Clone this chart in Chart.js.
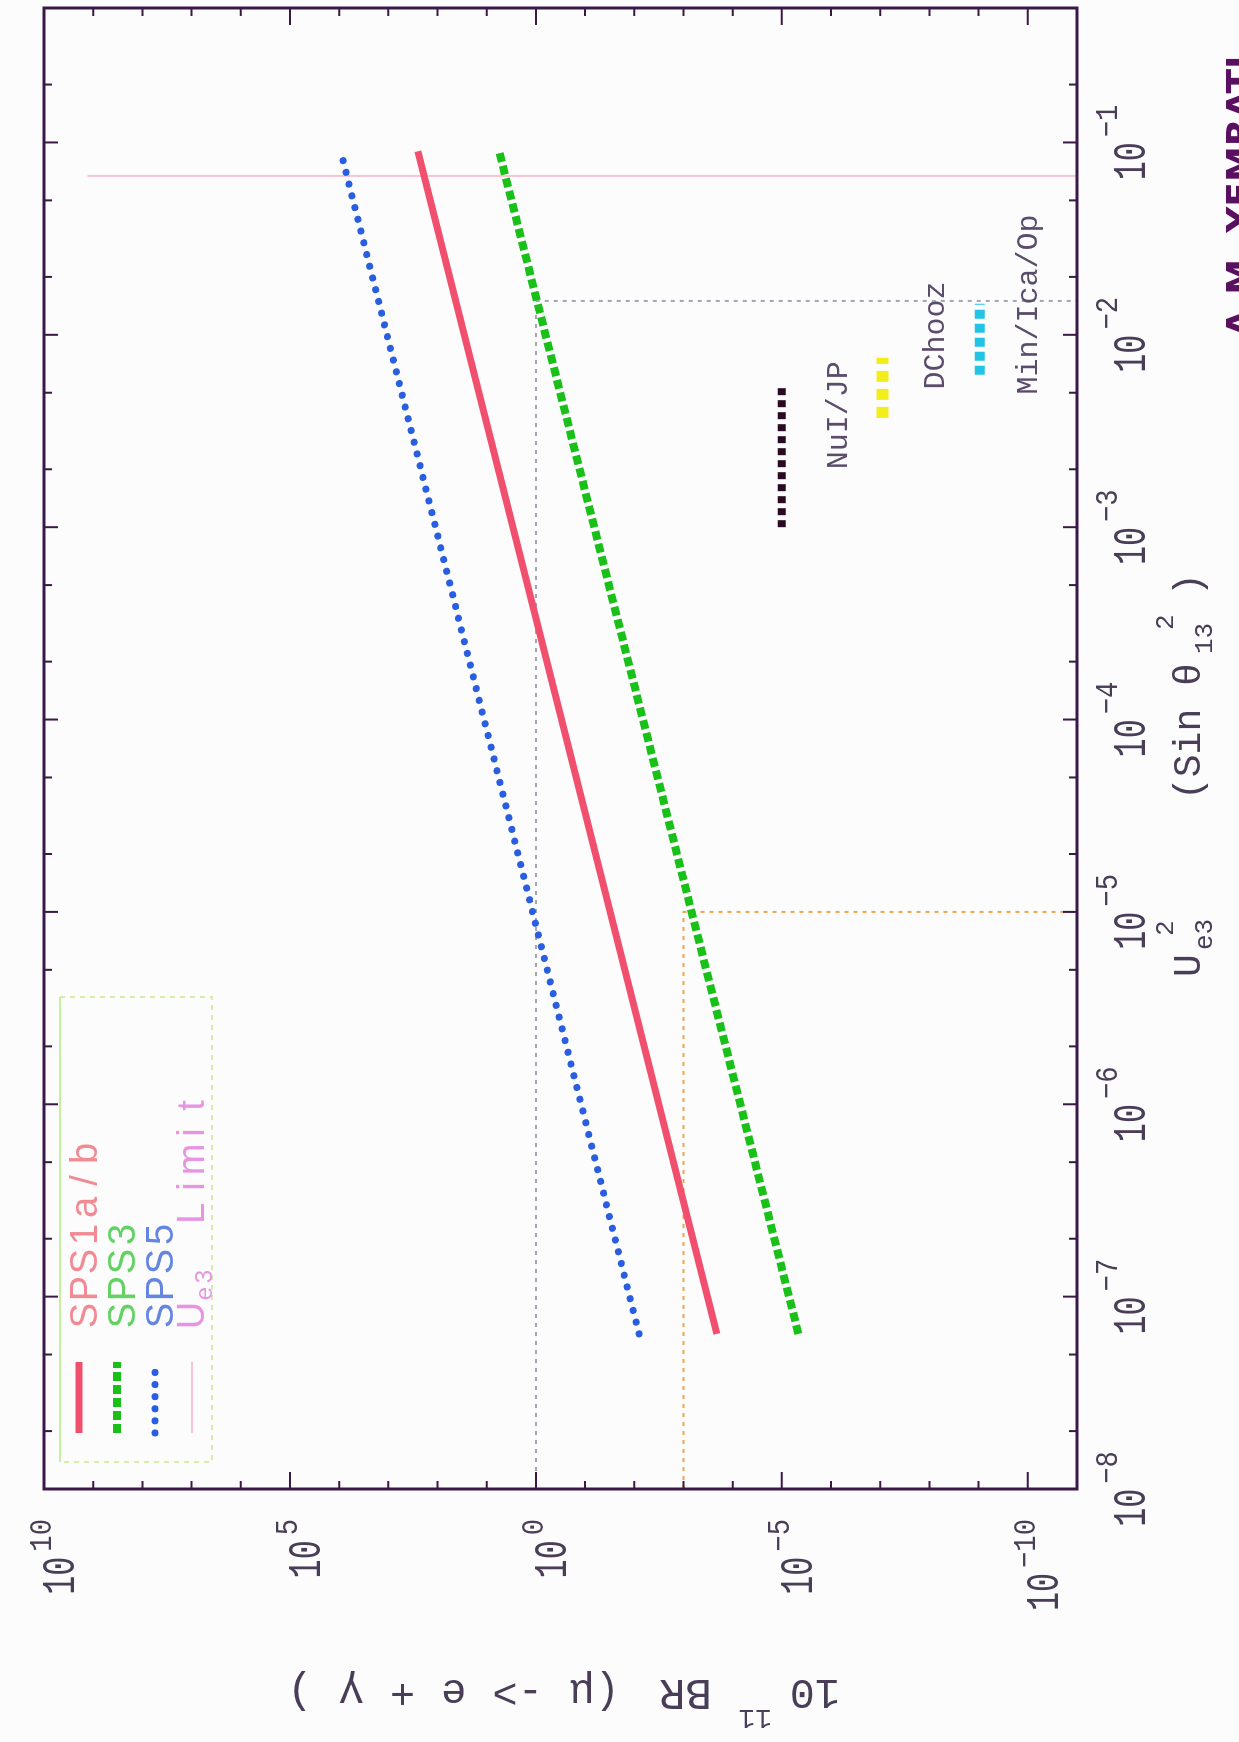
<!DOCTYPE html>
<html>
<head>
<meta charset="utf-8">
<script src="https://cdn.jsdelivr.net/npm/chart.js@4.4.1/dist/chart.umd.min.js"></script>
<style>
  html, body { margin: 0; padding: 0; background: #fcfcfc; overflow: hidden; }
  /* plot is laid out landscape, then turned a quarter turn */
  #wrap {
    position: absolute; left: 0; top: 0;
    width: 1742px; height: 1239px;
    transform-origin: 0 0;
    transform: translate(0, 1742px) rotate(-90deg);
  }
  canvas { display: block; }
</style>
</head>
<body>
<div id="wrap"><canvas id="c" width="1742" height="1239"></canvas></div>
<script>
// axis ranges
const xRange = [1e-8, 0.5];
const yRange = [1e-11, 1e10];
const xLabelExps = [-8, -7, -6, -5, -4, -3, -2, -1];
const yLabelExps = [10, 5, 0, -5, -10];

// model lines, BR vs Ue3^2
const modelX = [6.4e-8, 0.09];
const sps1ab = [2.1e-4, 250];
const sps3 = [4.6e-6, 5.6];
const sps5 = [8.0e-3, 9.3e3];

// Ue3 limit
const ue3LimitX = [0.067, 0.067];
const ue3LimitY = [1.3e9, 1e-11];

// guide lines
const grayPathX = [1e-8, 0.015, 0.015];
const grayPathY = [1, 1, 1e-11];
const orangePathX = [1e-8, 1e-5, 1e-5];
const orangePathY = [1e-3, 1e-3, 1e-11];

// experiment reach
const expNames = ['NuI/JP', 'DChooz', 'Min/Ica/Op'];
const expX = [[1e-3, 5.5e-3], [3.7e-3, 7.6e-3], [6.2e-3, 0.0145]];
const expY = [1e-5, 9e-8, 9.5e-10];
const expLabelX = [2.0e-3, 5.2e-3, 4.9e-3];
const expLabelY = [4.7e-7, 5.1e-9, 6.6e-11];

const MONO = '"Liberation Mono", "DejaVu Sans Mono", monospace';
const SANS = '"Liberation Sans", Arial, sans-serif';
const INK = '#4a3d58';
const FRAME = '#3a1848';

function pts(xs, ys) {
    return xs.map((x, i) => ({ x: x, y: Array.isArray(ys) ? ys[i] : ys }));
}

var datasets = [
    { label: 'SPS1a/b', data: pts(modelX, sps1ab), borderColor: '#f0506e', borderWidth: 7 },
    { label: 'SPS3', data: pts(modelX, sps3), borderColor: '#18c018', borderWidth: 8, borderDash: [9, 4] },
    { label: 'SPS5', data: pts(modelX, sps5), borderColor: '#2a5ee0', borderWidth: 7, borderDash: [0.1, 12], borderCapStyle: 'round' },
    { label: 'Ue3 Limit', data: pts(ue3LimitX, ue3LimitY), borderColor: '#f6c4d2', borderWidth: 2 }
];
expNames.forEach((name, i) => {
    var styles = [
        { borderColor: '#2a0a22', borderWidth: 8, borderDash: [7, 5] },
        { borderColor: '#f2ee1a', borderWidth: 12, borderDash: [11, 7] },
        { borderColor: '#22c4e6', borderWidth: 10, borderDash: [9, 5] }
    ];
    datasets.push(Object.assign({ label: name, data: pts(expX[i], expY[i]) }, styles[i]));
});
datasets.push({ label: 'gray', data: pts(grayPathX, grayPathY), borderColor: '#a4a4b4', borderWidth: 2, borderDash: [4, 5] });
datasets.push({ label: 'orange', data: pts(orangePathX, orangePathY), borderColor: '#f2a44a', borderWidth: 2, borderDash: [4, 5] });

datasets.forEach(d => { d.showLine = true; d.pointRadius = 0; d.fill = false; });

// plain text, optionally squeezed sideways
function put(ctx, s, x, y, font, color, sx) {
    sx = sx || 1;
    ctx.save();
    ctx.translate(x, y);
    ctx.scale(sx, 1);
    ctx.font = font;
    ctx.fillStyle = color;
    ctx.textAlign = 'left';
    ctx.textBaseline = 'alphabetic';
    ctx.fillText(s, 0, 0);
    var w = ctx.measureText(s).width * sx;
    ctx.restore();
    return w;
}

// one character per fixed cell
function spaced(ctx, s, x, y, font, color, pitch) {
    ctx.save();
    ctx.font = font;
    ctx.fillStyle = color;
    ctx.textAlign = 'center';
    ctx.textBaseline = 'alphabetic';
    Array.from(s).forEach((ch, i) => ctx.fillText(ch, x + pitch * (i + 0.5), y));
    ctx.restore();
    return pitch * s.length;
}

function supText(e) {
    return e < 0 ? '\u2212' + Math.abs(e) : String(e);
}

function measure(ctx, s, font, sx) {
    ctx.save();
    ctx.font = font;
    var w = ctx.measureText(s).width * (sx || 1);
    ctx.restore();
    return w;
}

const BASE_FONT = '46px ' + MONO, BASE_SX = 0.69;
const SUP_FONT = '32px ' + MONO, SUP_SX = 0.85;

function powerLabel(ctx, e, x, baseY, supY) {
    put(ctx, '10', x, baseY, BASE_FONT, INK, BASE_SX);
    var wb = measure(ctx, '10', BASE_FONT, BASE_SX);
    put(ctx, supText(e), x + wb + 5, supY, SUP_FONT, INK, SUP_SX);
}

function powerWidth(ctx, e) {
    return measure(ctx, '10', BASE_FONT, BASE_SX) + 5 + measure(ctx, supText(e), SUP_FONT, SUP_SX);
}

const decorations = {
    id: 'decorations',
    beforeDraw(chart) {
        var ctx = chart.ctx;
        ctx.save();
        ctx.fillStyle = '#fcfcfc';
        ctx.fillRect(0, 0, chart.width, chart.height);
        ctx.restore();
    },
    afterDraw(chart) {
        var ctx = chart.ctx, area = chart.chartArea;
        var xs = chart.scales.x, ys = chart.scales.y;

        ctx.save();
        // frame
        ctx.strokeStyle = FRAME;
        ctx.lineWidth = 3;
        ctx.strokeRect(area.left, area.top, area.right - area.left, area.bottom - area.top);

        // ticks, inward on every side
        ctx.lineWidth = 2;
        ctx.beginPath();
        for (var e = -8; e <= 0; e++) {
            [1, 2, 5].forEach(m => {
                var v = m * Math.pow(10, e);
                if (v <= xRange[0] || v >= xRange[1]) return;
                var px = xs.getPixelForValue(v);
                var len = m === 1 ? 14 : 8;
                ctx.moveTo(px, area.bottom); ctx.lineTo(px, area.bottom - len);
                ctx.moveTo(px, area.top); ctx.lineTo(px, area.top + len);
            });
        }
        for (var k = -10; k <= 9; k++) {
            var py = ys.getPixelForValue(Math.pow(10, k));
            var len = k % 5 === 0 ? 17 : 8;
            ctx.moveTo(area.left, py); ctx.lineTo(area.left + len, py);
            ctx.moveTo(area.right, py); ctx.lineTo(area.right - len, py);
        }
        ctx.stroke();

        // tick labels
        xLabelExps.forEach(e => {
            var px = xs.getPixelForValue(Math.pow(10, e));
            var w = powerWidth(ctx, e);
            powerLabel(ctx, e, px - w / 2, area.bottom + 68, area.bottom + 40);
        });
        yLabelExps.forEach(e => {
            var py = ys.getPixelForValue(Math.pow(10, e));
            var w = powerWidth(ctx, e);
            powerLabel(ctx, e, area.left - 30 - w, py + 30, py + 7);
        });

        // x title: Ue3^2 (Sin θ13^2)
        var tf = '38px ' + MONO, sf = '26px ' + MONO;
        var tb = area.bottom + 123;
        put(ctx, 'U', 765, tb, tf, INK);
        put(ctx, 'e3', 792, tb + 12, sf, INK);
        put(ctx, '2', 806, tb - 27, sf, INK);
        put(ctx, '(Sin \u03b8', 942, tb, tf, INK);
        put(ctx, '13', 1088, tb + 12, sf, INK);
        put(ctx, '2', 1112, tb - 27, sf, INK);
        put(ctx, ')', 1146, tb, tf, INK);

        // y title, read upwards
        ctx.save();
        ctx.translate(62, 840);
        ctx.rotate(-Math.PI / 2);
        put(ctx, '10', 0, 0, '42px ' + MONO, INK);
        put(ctx, '11', 68, -30, '28px ' + MONO, INK);
        put(ctx, 'BR', 128, 0, '44px ' + MONO, INK);
        spaced(ctx, '(\u03bc -> e + \u03b3 )', 220, 0, '42px ' + MONO, INK, 25.6);
        ctx.restore();

        // experiment names
        expNames.forEach((name, i) => {
            put(ctx, name, xs.getPixelForValue(expLabelX[i]), ys.getPixelForValue(expLabelY[i]),
                '30px ' + MONO, '#5c4c6c');
        });

        // legend box
        var bx = 280, by = 60, bw = 465, bh = 152;
        ctx.lineWidth = 2;
        ctx.strokeStyle = '#c4f0a0';
        ctx.beginPath(); ctx.moveTo(bx, by); ctx.lineTo(bx + bw, by); ctx.stroke();
        ctx.setLineDash([5, 5]);
        ctx.strokeStyle = '#d6eca8';
        ctx.beginPath();
        ctx.moveTo(bx + bw, by); ctx.lineTo(bx + bw, by + bh);
        ctx.lineTo(bx, by + bh); ctx.lineTo(bx, by);
        ctx.stroke();
        ctx.setLineDash([]);

        var rows = [
            { ds: datasets[0], text: 'SPS1a/b', color: '#f28a94', mid: 79 },
            { ds: datasets[1], text: 'SPS3', color: '#62d262', mid: 117 },
            { ds: datasets[2], text: 'SPS5', color: '#6486e2', mid: 155 },
            { ds: datasets[3], text: null, color: '#e894e4', mid: 192 }
        ];
        var lf = '38px ' + SANS;
        rows.forEach(r => {
            ctx.save();
            ctx.strokeStyle = r.ds.borderColor;
            ctx.lineWidth = r.ds.borderWidth;
            ctx.lineCap = r.ds.borderCapStyle || 'butt';
            ctx.setLineDash(r.ds.borderDash || []);
            ctx.beginPath();
            ctx.moveTo(309, r.mid); ctx.lineTo(380, r.mid);
            ctx.stroke();
            ctx.restore();
            if (r.text) {
                spaced(ctx, r.text, 413, r.mid + 18, lf, r.color, 27);
            } else {
                spaced(ctx, 'U', 413, r.mid + 12, lf, r.color, 27);
                spaced(ctx, 'e3', 440, r.mid + 20, '24px ' + SANS, r.color, 17);
                spaced(ctx, 'Limit', 515, r.mid + 12, lf, r.color, 27);
            }
        });

        // note in the margin
        put(ctx, 'A.M. YEMRATI', 1405, 1252, 'bold 36px "DejaVu Sans", sans-serif', '#5a1060');

        ctx.restore();
    }
};

new Chart(document.getElementById('c').getContext('2d'), {
    type: 'scatter',
    data: { datasets: datasets },
    options: {
        responsive: false,
        animation: false,
        devicePixelRatio: 1,
        layout: { padding: { left: 253, right: 8, top: 44, bottom: 162 } },
        plugins: { legend: { display: false }, tooltip: { enabled: false } },
        scales: {
            x: { type: 'logarithmic', min: xRange[0], max: xRange[1], display: false },
            y: { type: 'logarithmic', min: yRange[0], max: yRange[1], display: false }
        }
    },
    plugins: [decorations]
});
</script>
</body>
</html>
